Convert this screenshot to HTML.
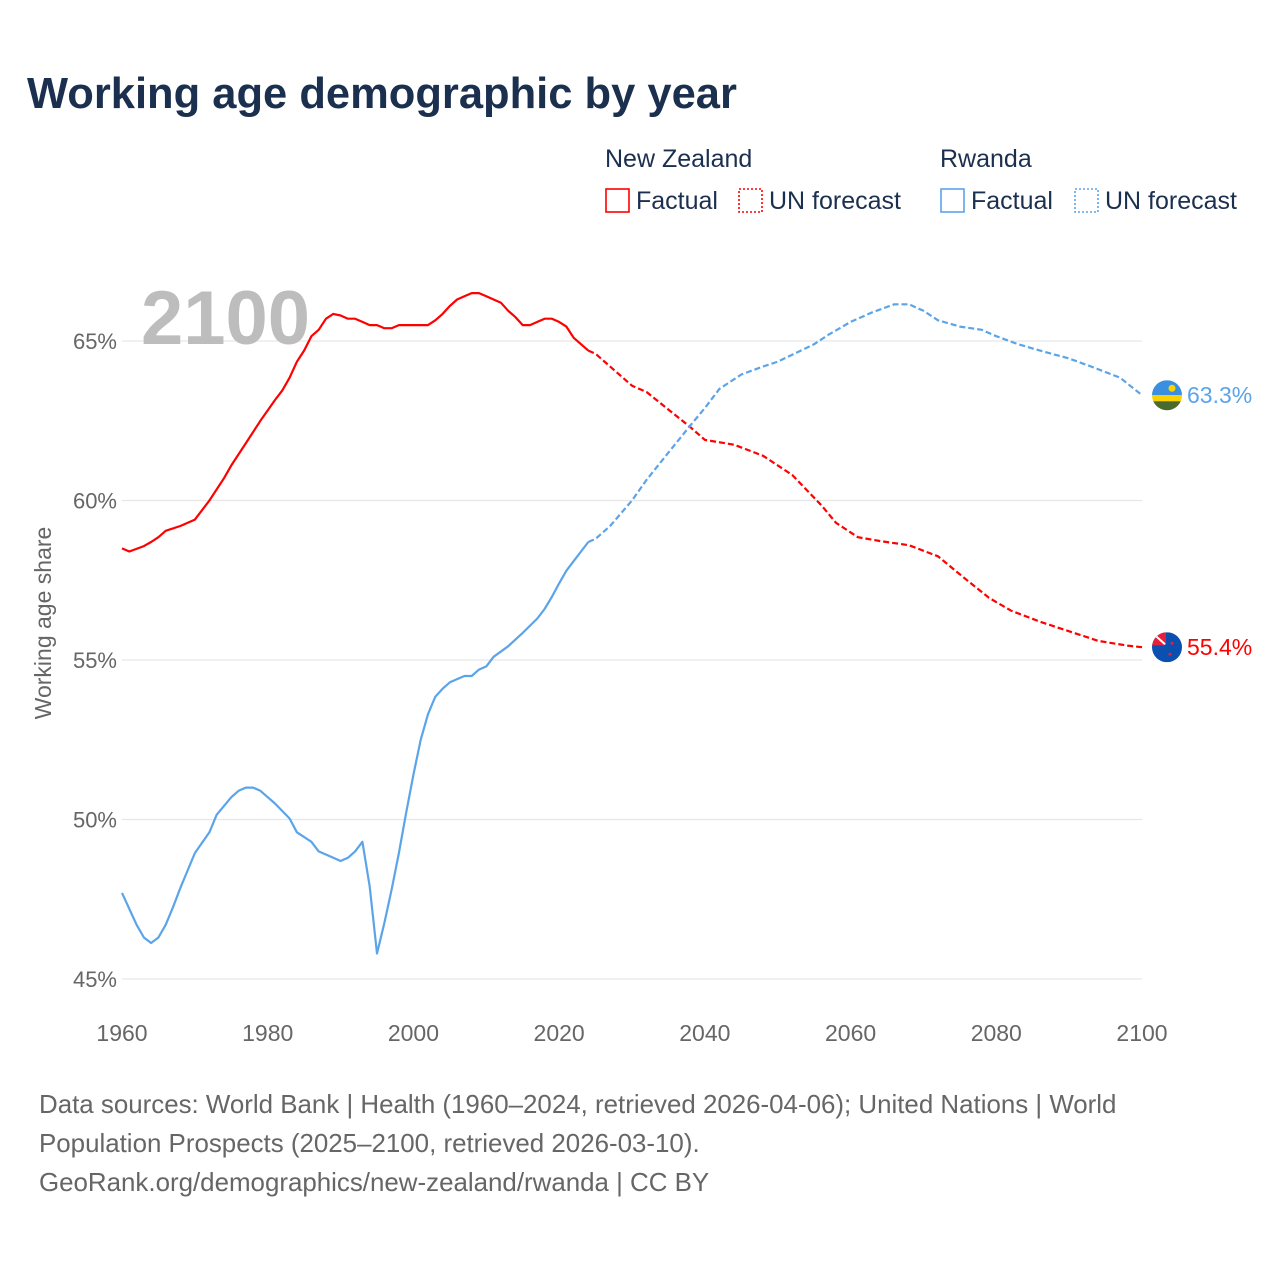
<!DOCTYPE html>
<html><head><meta charset="utf-8"><style>
body{margin:0;background:#fff;font-family:"Liberation Sans",sans-serif;}
#wrap{position:relative;width:1280px;height:1280px;overflow:hidden;}
.t{position:absolute;white-space:nowrap;}
</style></head><body>
<div id="wrap">
<div class="t" style="left:27px;top:70px;font-size:43.5px;font-weight:bold;color:#1b2f4f;">Working age demographic by year</div>
<svg id="c" width="1280" height="1280" style="position:absolute;left:0;top:0"></svg>
<div class="t" style="left:39px;top:1086px;font-size:25.9px;line-height:39px;color:#666;">Data sources: World Bank | Health (1960–2024, retrieved 2026-04-06); United Nations | World<br>Population Prospects (2025–2100, retrieved 2026-03-10).<br>GeoRank.org/demographics/new-zealand/rwanda | CC BY</div>
</div>
<script>
const nzFactYears=[1960,1961,1963,1964,1965,1966,1968,1970,1972,1974,1975,1977,1979,1981,1982,1983,1984,1985,1986,1987,1988,1989,1990,1991,1992,1993,1994,1995,1996,1997,1998,2002,2003,2004,2005,2006,2007,2008,2009,2010,2011,2012,2013,2014,2015,2016,2017,2018,2019,2020,2021,2022,2023,2024];
const nzFactVals=[58.5,58.4,58.57,58.7,58.85,59.05,59.2,59.4,60.0,60.7,61.1,61.8,62.5,63.15,63.45,63.85,64.35,64.7,65.15,65.35,65.7,65.85,65.8,65.7,65.7,65.6,65.5,65.5,65.4,65.4,65.5,65.5,65.65,65.85,66.1,66.3,66.4,66.5,66.5,66.4,66.3,66.2,65.95,65.75,65.5,65.5,65.6,65.7,65.7,65.6,65.45,65.1,64.9,64.7];
const nzFcYears=[2024,2025,2030,2032,2035,2038,2040,2044,2048,2052,2056,2058,2061,2064,2068,2072,2076,2079,2082,2086,2090,2094,2098,2100];
const nzFcVals=[64.7,64.6,63.6,63.4,62.85,62.3,61.9,61.75,61.4,60.8,59.85,59.3,58.85,58.73,58.6,58.25,57.5,56.95,56.55,56.2,55.9,55.6,55.45,55.4];
const rwFactYears=[1960,1962,1963,1964,1965,1966,1967,1968,1969,1970,1972,1973,1975,1976,1977,1978,1979,1980,1981,1983,1984,1986,1987,1989,1990,1991,1992,1993,1994,1995,1996,1997,1998,1999,2000,2001,2002,2003,2004,2005,2006,2007,2008,2009,2010,2011,2013,2015,2017,2018,2019,2020,2021,2022,2023,2024];
const rwFactVals=[47.7,46.7,46.3,46.13,46.3,46.7,47.25,47.85,48.4,48.95,49.6,50.15,50.7,50.9,51.0,51.0,50.9,50.7,50.5,50.03,49.6,49.3,49.0,48.8,48.7,48.8,49.0,49.3,47.9,45.8,46.75,47.8,48.95,50.2,51.4,52.5,53.3,53.85,54.1,54.3,54.4,54.5,54.5,54.7,54.8,55.1,55.43,55.85,56.3,56.6,56.98,57.4,57.8,58.1,58.4,58.7];
const rwFcYears=[2024,2025,2027,2030,2032,2035,2038,2040,2042,2045,2048,2050,2055,2057,2060,2063,2066,2068,2070,2072,2075,2078,2080,2083,2086,2090,2093,2097,2100];
const rwFcVals=[58.7,58.8,59.2,60.0,60.65,61.5,62.35,62.9,63.5,63.95,64.2,64.35,64.9,65.2,65.6,65.9,66.15,66.15,65.95,65.65,65.45,65.35,65.15,64.9,64.7,64.45,64.2,63.85,63.3];
const yTicks=[45,50,55,60,65];
const xTicks=[1960,1980,2000,2020,2040,2060,2080,2100];
const NS='http://www.w3.org/2000/svg';
const svg=document.getElementById('c');
const X=y=>122+(y-1960)*(1020/140);
const Y=v=>979-(v-45)*(638/20);
function mk(tag,attrs,parent){const e=document.createElementNS(NS,tag);for(const k in attrs)e.setAttribute(k,attrs[k]);(parent||svg).appendChild(e);return e;}
yTicks.forEach(v=>{
 const l=mk('line',{x1:122,x2:1142,y1:Y(v),y2:Y(v),stroke:'#e6e6e6','stroke-width':1.2});
 
 
 const t=mk('text',{x:117,y:Y(v)+8,'text-anchor':'end','font-size':22,fill:'#666','font-family':'Liberation Sans'});
 t.textContent=v+'%';
 
 
});
xTicks.forEach(yr=>{
 const t=mk('text',{x:X(yr),y:1041,'text-anchor':'middle','font-size':23,fill:'#666','font-family':'Liberation Sans'});
 t.textContent=yr;
 
 
});
const yt=mk('text',{transform:'translate(51,623) rotate(-90)','text-anchor':'middle','font-size':23,fill:'#666','font-family':'Liberation Sans'});
yt.textContent='Working age share';


const yr=mk('text',{x:141,y:344,'font-size':76,'font-weight':'bold',fill:'#bdbdbd','font-family':'Liberation Sans'});
yr.textContent='2100';


function line(ys,vs,color,dash,name){
 const d=ys.map((y,i)=>(i?'L':'M')+X(y).toFixed(1)+','+Y(vs[i]).toFixed(1)).join('');
 const p=mk('path',{d:d,fill:'none',stroke:color,'stroke-width':2.2,'stroke-linejoin':'round'});
 if(dash)p.setAttribute('stroke-dasharray',dash);
 
 
}
line(nzFactYears,nzFactVals,'#ff0000',null,'nz-factual-line');
line(nzFcYears,nzFcVals,'#ff0000','6,3','nz-forecast-line');
line(rwFactYears,rwFactVals,'#5ba4ea',null,'rwanda-factual-line');
line(rwFcYears,rwFcVals,'#5ba4ea','6,3','rwanda-forecast-line');
const rwY=Y(rwFcVals[rwFcVals.length-1]), nzY=Y(nzFcVals[nzFcVals.length-1]);
const g1=mk('g',{});


mk('clipPath',{id:'cp1'},g1);
const cp1=g1.lastChild; mk('circle',{cx:1167,cy:rwY,r:15},cp1);
const gg1=mk('g',{'clip-path':'url(#cp1)'},g1);
mk('rect',{x:1152,y:rwY-15,width:30,height:15,fill:'#3a8fe0'},gg1);
mk('rect',{x:1152,y:rwY,width:30,height:6,fill:'#fad201'},gg1);
mk('rect',{x:1152,y:rwY+6,width:30,height:10,fill:'#4b6b2e'},gg1);
mk('circle',{cx:1172,cy:rwY-7,r:3.5,fill:'#fad201'},gg1);
const g2=mk('g',{});


mk('clipPath',{id:'cp2'},g2);
const cp2=g2.lastChild; mk('circle',{cx:1167,cy:nzY,r:15},cp2);
const gg2=mk('g',{'clip-path':'url(#cp2)'},g2);
mk('rect',{x:1152,y:nzY-15,width:30,height:30,fill:'#0b4fb0'},gg2);
mk('rect',{x:1152,y:nzY-15,width:14,height:13,fill:'#e6203a'},gg2);
mk('path',{d:`M1155,${nzY-12}L1165,${nzY-3}`,stroke:'#fff','stroke-width':2},gg2);
mk('circle',{cx:1172,cy:nzY-4,r:1.5,fill:'#e6203a'},gg2);
mk('circle',{cx:1170,cy:nzY+7,r:1.5,fill:'#e6203a'},gg2);
const l1=mk('text',{x:1187,y:rwY+8,'font-size':23,fill:'#5ba4ea','font-family':'Liberation Sans'});
l1.textContent=rwFcVals[rwFcVals.length-1].toFixed(1)+'%';


const l2=mk('text',{x:1187,y:nzY+8,'font-size':23,fill:'#ff0000','font-family':'Liberation Sans'});
l2.textContent=nzFcVals[nzFcVals.length-1].toFixed(1)+'%';


function txt(x,y,s,name,size){const t=mk('text',{x:x,y:y,'font-size':size||25,fill:'#1b2f4f','font-family':'Liberation Sans'});t.textContent=s;}
txt(605,167,'New Zealand','legend-title-nz');
txt(940,167,'Rwanda','legend-title-rwanda');
function box(x,color,dash,name){const r=mk('rect',{x:x,y:189,width:23,height:23,fill:'none',stroke:color,'stroke-width':1.6});if(dash)r.setAttribute('stroke-dasharray',dash);}
box(606,'#ff0000',null,'legend-nz-factual');txt(636,209,'Factual','legend-label');
box(739,'#ff0000','2,2','legend-nz-forecast');txt(769,209,'UN forecast','legend-label');
box(941,'#5ba4ea',null,'legend-rwanda-factual');txt(971,209,'Factual','legend-label');
box(1075,'#5ba4ea','2,2','legend-rwanda-forecast');txt(1105,209,'UN forecast','legend-label');
</script>
</body></html>
